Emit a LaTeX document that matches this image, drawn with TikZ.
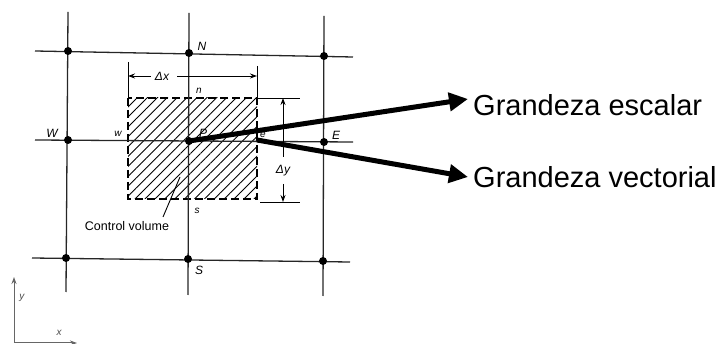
\documentclass[tikz,border=0pt]{standalone}
\usepackage{fontspec}
\setmainfont{Liberation Sans}
\usetikzlibrary{arrows.meta,patterns.meta}
\tikzset{
  gridline/.style={line width=1.3pt,draw=black!85},
  dot/.style={circle,fill=black,inner sep=0pt,minimum size=8pt},
  lbl/.style={font=\fontsize{12}{12}\selectfont\itshape,inner sep=0pt},
  slbl/.style={font=\fontsize{10}{10}\selectfont\itshape,inner sep=0pt},
  dimline/.style={line width=0.9pt,-{Stealth[length=7pt,width=5pt]}},
  thin/.style={line width=0.9pt},
  bigarrow/.style={line width=5pt,-{Triangle[length=19pt,width=18pt]}},
  bigtext/.style={font=\fontsize{29}{29}\selectfont,inner sep=0pt,anchor=base west},
  axis/.style={line width=1pt,draw=black!60,-{Stealth[length=7pt,width=5pt]}}
}
\begin{document}
\begin{tikzpicture}[x=1pt,y=-1pt]
\useasboundingbox (0,0) rectangle (728,344);
% control volume
\fill[pattern={Lines[angle=45,distance=7pt,line width=0.9pt]}] (128,98) rectangle (257,199);
\draw[line width=1.4pt,dash pattern=on 8pt off 4pt] (128,98) rectangle (257,199);
% grid line end points
\coordinate (h1a) at (35,51); \coordinate (h1b) at (353,57);
\coordinate (h2a) at (35,140); \coordinate (h2b) at (353,142);
\coordinate (h3a) at (32,258); \coordinate (h3b) at (350,262);
\coordinate (v1a) at (68,12); \coordinate (v1b) at (66,292);
\coordinate (v2a) at (189,13); \coordinate (v2b) at (188,295);
\coordinate (v3a) at (324,16); \coordinate (v3b) at (323,296);
\draw[gridline] (h1a) -- (h1b);
\draw[gridline] (h2a) -- (h2b);
\draw[gridline] (h3a) -- (h3b);
\draw[gridline] (v1a) -- (v1b);
\draw[gridline] (v2a) -- (v2b);
\draw[gridline] (v3a) -- (v3b);
% nodes
\node[dot] (NW) at (68,51) {};
\node[dot] (N) at (189,53) {};
\node[dot] (NE) at (324,56) {};
\node[dot] (W) at (68,140) {};
\node[dot] (P) at (189,141) {};
\node[dot] (E) at (324,142) {};
\node[dot] (SW) at (66,258) {};
\node[dot] (S) at (188,259) {};
\node[dot] (SE) at (323,261) {};
% labels
\node[lbl] (lN) at (202,46) {N};
\node[lbl] (lW) at (52,133) {W};
\node[slbl] (lw) at (118,134) {w};
\node[lbl] (lP) at (203,133) {P};
\node[slbl] (le) at (263,135) {e};
\node[lbl] (lE) at (336,135) {E};
\node[slbl] (ln) at (199,91) {n};
\node[slbl] (ls) at (197,211) {s};
\node[lbl] (lS) at (199,270) {S};
% dx dimension
\coordinate (dxl1) at (128,62); \coordinate (dxl2) at (128,98);
\coordinate (dxr1) at (257,66); \coordinate (dxr2) at (257,98);
\draw[thin] (dxl1) -- (dxl2);
\draw[thin] (dxr1) -- (dxr2);
\node[lbl] (dx) at (162,76) {Δx};
\coordinate (dxla) at (128,76); \coordinate (dxra) at (257,76);
\draw[dimline] (dx.west) ++(-4,0) -- (dxla);
\draw[dimline] (dx.east) ++(8,0) -- (dxra);
% dy dimension
\coordinate (dyt1) at (257,98); \coordinate (dyt2) at (300,98);
\coordinate (dyb1) at (260,202); \coordinate (dyb2) at (300,202);
\draw[thin] (dyt1) -- (dyt2);
\draw[thin] (dyb1) -- (dyb2);
\node[lbl] (dy) at (283,171) {Δy};
\coordinate (dyta) at (283,98); \coordinate (dyba) at (283,202);
\coordinate (dyts) at (283,157); \coordinate (dybs) at (283,184);
\draw[dimline] (dyts) -- (dyta);
\draw[dimline] (dybs) -- (dyba);
% control volume label
\node[font=\fontsize{12.5}{12.5}\selectfont,inner sep=0pt] (cv) at (127,226) {Control volume};
\coordinate (cvp) at (180,177);
\draw[thin] (163,217) -- (cvp);
% axes
\coordinate (O) at (14,343);
\coordinate (yax) at (14,277);
\coordinate (xax) at (77,343);
\draw[axis] (O) -- (yax);
\draw[axis] (O) -- (xax);
\node[slbl,text=black!70] (ly) at (22,298) {y};
\node[slbl,text=black!70] (lx) at (59,333) {x};
% thick arrows
\coordinate (e) at (257,140);
\coordinate (t1) at (468,99);
\coordinate (t2) at (468,177);
\draw[bigarrow] (P.center) -- (t1);
\draw[bigarrow] (e) -- (t2);
\node[bigtext] (g1) at (473,116) {Grandeza escalar};
\node[bigtext] (g2) at (473,188) {Grandeza vectorial};
\end{tikzpicture}
\end{document}
